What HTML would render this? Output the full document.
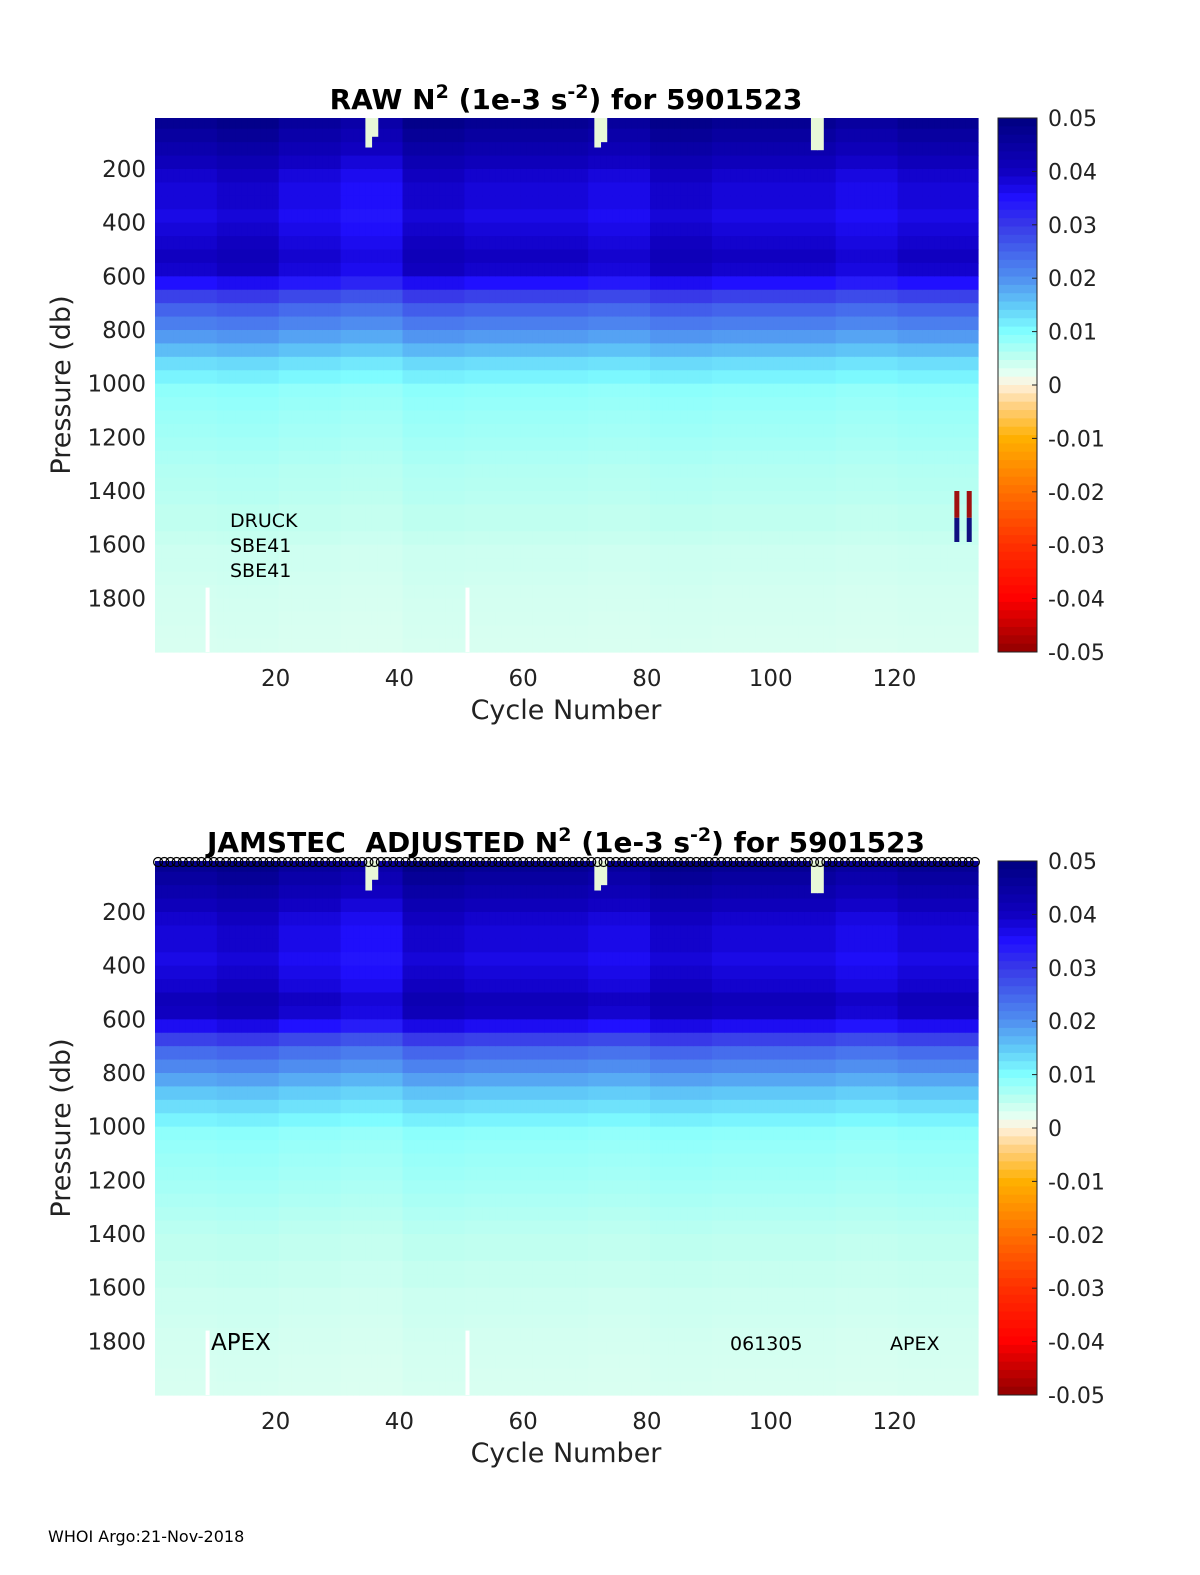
<!DOCTYPE html>
<html><head><meta charset="utf-8">
<style>
body{margin:0;background:#fff;}
svg{display:block;font-family:"DejaVu Sans","Liberation Sans",sans-serif;}
</style></head>
<body>
<svg id="fig" width="1200" height="1575" viewBox="0 0 1200 1575"></svg>
<script>
// ---- data ----
const pressureLevels = [25,75,125,175,225,275,325,375,425,475,525,575,625,675,725,775,825,875,925,975,1025,1075,1125,1175,1225,1275,1325,1375,1425,1475,1525,1575,1625,1675,1725,1775,1825,1875,1925,1975];
const rawProfile =    [0.047,0.045,0.043,0.041,0.039,0.038,0.038,0.037,0.038,0.039,0.040,0.039,0.035,0.029,0.025,0.022,0.019,0.016,0.013,0.011,0.0088,0.0083,0.0078,0.0074,0.007,0.0065,0.006,0.0058,0.0055,0.005,0.005,0.0045,0.004,0.004,0.0038,0.0036,0.0035,0.0034,0.0033,0.0032];
const adjProfile =    [0.047,0.045,0.043,0.041,0.039,0.038,0.038,0.037,0.038,0.039,0.041,0.040,0.036,0.029,0.024,0.021,0.018,0.015,0.013,0.011,0.0088,0.0083,0.0078,0.0074,0.007,0.0065,0.006,0.0055,0.005,0.005,0.0045,0.0045,0.004,0.004,0.0038,0.0036,0.0035,0.0034,0.0033,0.0032];
const cycleGroupFactor = [1.0,1.03,0.97,0.93,1.03,1.0,1.0,0.97,1.03,1.0,1.0,0.96,1.0,1.0];
const nCycles = 133;
const xTicks = [20,40,60,80,100,120];
const yTicks = [200,400,600,800,1000,1200,1400,1600,1800];
const cbTicks = [0.05,0.04,0.03,0.02,0.01,0,-0.01,-0.02,-0.03,-0.04,-0.05];
const cbStopsV = [-0.05,-0.04,-0.03,-0.02,-0.01,-0.004,0,0.002,0.005,0.01,0.015,0.02,0.03,0.035,0.04,0.05];
const cbStopsC = ["#900000","#ff0000","#ff3000","#ff7000","#ffb000","#ffd080","#fff2dc","#e8fff2","#c0fff0","#80ffff","#60c8f8","#5090f0","#3838e8","#2010ff","#1000c0","#000080"];
const gapCycles = [9,51];

// ---- helpers ----
const NS="http://www.w3.org/2000/svg";
const svg=document.getElementById('fig');
function el(tag,attrs,parent){const e=document.createElementNS(NS,tag);for(const k in attrs)e.setAttribute(k,attrs[k]);(parent||svg).appendChild(e);return e;}
function hex(c){return [parseInt(c.slice(1,3),16),parseInt(c.slice(3,5),16),parseInt(c.slice(5,7),16)];}
function cmap(v){
  if(v<=cbStopsV[0])return cbStopsC[0];
  for(let i=1;i<cbStopsV.length;i++){
    if(v<=cbStopsV[i]){const t=(v-cbStopsV[i-1])/(cbStopsV[i]-cbStopsV[i-1]);const a=hex(cbStopsC[i-1]),b=hex(cbStopsC[i]);
      return `rgb(${Math.round(a[0]+(b[0]-a[0])*t)},${Math.round(a[1]+(b[1]-a[1])*t)},${Math.round(a[2]+(b[2]-a[2])*t)})`;}
  }
  return cbStopsC[cbStopsC.length-1];
}

function panel(top,profile,title,prefix){
  const L=155,R=978,T=top,B=top+534;
  const xs=c=>L+(c-0.5)*(R-L)/nCycles;
  const ys=p=>T+(p-10)*(B-T)/1990;
  const g=el('g',{},svg);
  
  
  const hm=el('g',{},g);
  
  
  for(let c=1;c<=nCycles;c++){
    const f=cycleGroupFactor[Math.min(cycleGroupFactor.length-1,Math.floor((c-1)/10))];
    for(let i=0;i<pressureLevels.length;i++){
      const p0=Math.max(10,pressureLevels[i]-25),p1=pressureLevels[i]+25;
      const r=el('rect',{x:xs(c-0.5),y:ys(p0),width:xs(c+0.5)-xs(c-0.5)+0.6,height:ys(p1)-ys(p0)+0.6,fill:cmap(profile[i]*f)},hm);
      
      
    }
  }
  gapCycles.forEach(gc=>{
    const r=el('rect',{x:xs(gc)-2,y:ys(1760),width:4,height:ys(2000)-ys(1760),fill:'#fff'},g);
    
    
  });
  xTicks.forEach(t=>{
    const tx=el('text',{x:xs(t),y:B+34,'font-size':23,'text-anchor':'middle',fill:'#222'},g);tx.textContent=t;
    
    
  });
  yTicks.forEach(t=>{
    const tx=el('text',{x:L-9,y:ys(t)+8,'font-size':23,'text-anchor':'end',fill:'#222'},g);tx.textContent=t;
    
    
  });
  const xt=el('text',{x:566,y:B+67,'font-size':27,'text-anchor':'middle',fill:'#222'},g);xt.textContent='Cycle Number';
  
  
  const yt=el('text',{x:0,y:0,'font-size':27,'text-anchor':'middle',fill:'#222',transform:`translate(70,${(T+B)/2}) rotate(-90)`},g);yt.textContent='Pressure (db)';
  
  
  const tt=el('text',{x:566,y:T-9,'font-size':28,'font-weight':'bold','text-anchor':'middle',fill:'#000'},g);
  tt.innerHTML=title;
  
  
  const cb=el('g',{},g);
  
  
  const cbL=998,cbR=1037;
  const cv=v=>T+(0.05-v)*(B-T)/0.1;
  for(let k=0;k<64;k++){
    const v0=0.05-k*0.1/64,v1=v0-0.1/64;
    el('rect',{x:cbL,y:cv(v0),width:cbR-cbL,height:cv(v1)-cv(v0)+0.5,fill:cmap((v0+v1)/2)},cb);
  }
  el('rect',{x:cbL,y:T,width:cbR-cbL,height:B-T,fill:'none',stroke:'#222','stroke-width':1},cb);
  cbTicks.forEach(t=>{
    el('line',{x1:cbR-5,x2:cbR,y1:cv(t),y2:cv(t),stroke:'#222'},cb);
    const tx=el('text',{x:1048,y:cv(t)+8,'font-size':22,fill:'#222'},cb);tx.textContent=t;
    
    
  });
  return {xs,ys,g,T,B};
}

const p1=panel(118,rawProfile,'RAW N<tspan dy="-11" font-size="19">2</tspan><tspan dy="11"> (1e-3 s</tspan><tspan dy="-11" font-size="19">-2</tspan><tspan dy="11">) for 5901523</tspan>','raw');
const p2=panel(861,adjProfile,'JAMSTEC&#160; ADJUSTED N<tspan dy="-11" font-size="19">2</tspan><tspan dy="11"> (1e-3 s</tspan><tspan dy="-11" font-size="19">-2</tspan><tspan dy="11">) for 5901523</tspan>','adjusted');

[[130,'#a01010',1400,1500],[130,'#101080',1500,1590],[132,'#a01010',1400,1500],[132,'#101080',1500,1590]].forEach(m=>{
  const r=el('rect',{x:p1.xs(m[0])-2,y:p1.ys(m[2]),width:5,height:p1.ys(m[3])-p1.ys(m[2]),fill:m[1]});
  
  
});
[[35,10,120],[36,10,80],[72,10,120],[73,10,100],[107,10,130],[108,10,130]].forEach(m=>{
  [p1,p2].forEach(p=>{
    const r=el('rect',{x:p.xs(m[0]-0.5),y:p.ys(m[1]),width:p.xs(1.5)-p.xs(0.5)+0.5,height:p.ys(m[2])-p.ys(m[1]),fill:'#e8f8d8'});
    
    
  });
});
for(let c=1;c<=nCycles;c++){
  const ci=el('circle',{cx:p2.xs(c),cy:862,r:4.5,fill:'none',stroke:'#000','stroke-width':1.2});
  
  
}
function label(x,y,s,txt,name){const t=el('text',{x:x,y:y,'font-size':s,fill:'#000'});t.textContent=txt;}
label(230,527,19,'DRUCK','sensor-label');
label(230,552,19,'SBE41','sensor-label');
label(230,577,19,'SBE41','sensor-label');
label(211,1350,23,'APEX','float-type-label');
label(730,1350,19,'061305','serial-label');
label(890,1350,19,'APEX','float-type-label');
label(48,1542,16,'WHOI Argo:21-Nov-2018','footer-date');
</script>
</body></html>
